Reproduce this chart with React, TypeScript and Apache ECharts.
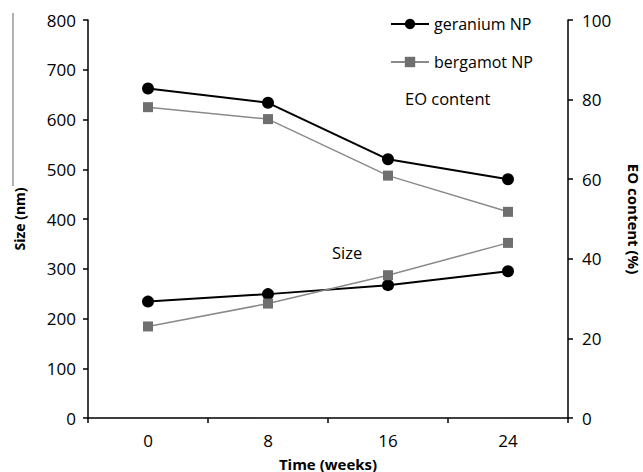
import React, { useEffect, useRef } from "react";
import * as echarts from "echarts";

const weeks = ["0", "8", "16", "24"];
const geraniumEO = [82.8, 79.2, 65.0, 60.0];
const bergamotEO = [78.1, 75.1, 60.9, 51.8];
const geraniumSize = [234, 249, 267, 295];
const bergamotSize = [184, 230, 287, 352];

const FONT = "Open Sans";
const TXT = "#000";

export default function App() {
  const ref = useRef<HTMLDivElement>(null);
  useEffect(() => {
    if (!ref.current) return;
    const chart = echarts.init(ref.current, null, { renderer: "svg" });
    const axisLine = { show: true, lineStyle: { color: "#000", width: 1.5 } };
    const axisTick = { show: true, length: 5, lineStyle: { color: "#000", width: 1.5 } };
    const geranium = {
      type: "line",
      name: "geranium NP",
      symbol: "circle",
      symbolSize: 12,
      itemStyle: { color: "#000" },
      lineStyle: { color: "#000", width: 2 },
    };
    const bergamot = {
      type: "line",
      name: "bergamot NP",
      symbol: "rect",
      symbolSize: 10,
      itemStyle: { color: "#6f6f6f" },
      lineStyle: { color: "#8a8a8a", width: 1.5 },
    };
    chart.setOption({
      animation: false,
      backgroundColor: "#fff",
      textStyle: { fontFamily: FONT, color: TXT },
      grid: { left: 88, right: 75, top: 20, bottom: 54, containLabel: false, outerBoundsMode: "none" },
      legend: {
        orient: "vertical",
        left: 385,
        top: 11,
        itemWidth: 38,
        itemHeight: 13,
        itemGap: 22,
        textStyle: { fontFamily: FONT, fontSize: 16, color: TXT },
        data: ["geranium NP", "bergamot NP"],
      },
      xAxis: {
        type: "category",
        data: weeks,
        boundaryGap: true,
        axisLine,
        axisTick: { ...axisTick, alignWithLabel: false },
        axisLabel: { fontFamily: FONT, fontSize: 17, color: TXT, margin: 14 },
        name: "Time (weeks)",
        nameLocation: "middle",
        nameGap: 38,
        nameTextStyle: { fontFamily: FONT, fontSize: 15, fontWeight: "bold", color: TXT },
        splitLine: { show: false },
      },
      yAxis: [
        {
          type: "value",
          min: 0,
          max: 800,
          interval: 100,
          position: "left",
          axisLine,
          axisTick,
          axisLabel: { fontFamily: FONT, fontSize: 17, color: TXT, margin: 12 },
          splitLine: { show: false },
          name: "Size (nm)",
          nameLocation: "middle",
          nameGap: 62,
          nameRotate: 90,
          nameTextStyle: { fontFamily: FONT, fontSize: 14, fontWeight: "bold", color: TXT },
        },
        {
          type: "value",
          min: 0,
          max: 100,
          interval: 20,
          position: "right",
          axisLine,
          axisTick,
          axisLabel: { fontFamily: FONT, fontSize: 17, color: TXT, margin: 14 },
          splitLine: { show: false },
          name: "EO content (%)",
          nameLocation: "middle",
          nameGap: 58,
          nameRotate: -90,
          nameTextStyle: { fontFamily: FONT, fontSize: 15, fontWeight: "bold", color: TXT },
        },
      ],
      graphic: [
        {
          type: "text",
          left: 405,
          top: 90,
          style: { text: "EO content", font: `16.5px "${FONT}"`, fill: TXT },
        },
        {
          type: "text",
          left: 332,
          top: 244,
          style: { text: "Size", font: `16.5px "${FONT}"`, fill: TXT },
        },
        {
          type: "line",
          shape: { x1: 13, y1: 13, x2: 13, y2: 186 },
          style: { stroke: "#666", lineWidth: 1 },
        },
      ],
      series: [
        { ...geranium, yAxisIndex: 1, data: geraniumEO },
        { ...bergamot, yAxisIndex: 1, data: bergamotEO },
        { ...geranium, yAxisIndex: 0, data: geraniumSize },
        { ...bergamot, yAxisIndex: 0, data: bergamotSize },
      ],
    });
    return () => chart.dispose();
  }, []);
  return <div ref={ref} style={{ width: 643, height: 472, position: "absolute", left: 0, top: 0 }} />;
}
